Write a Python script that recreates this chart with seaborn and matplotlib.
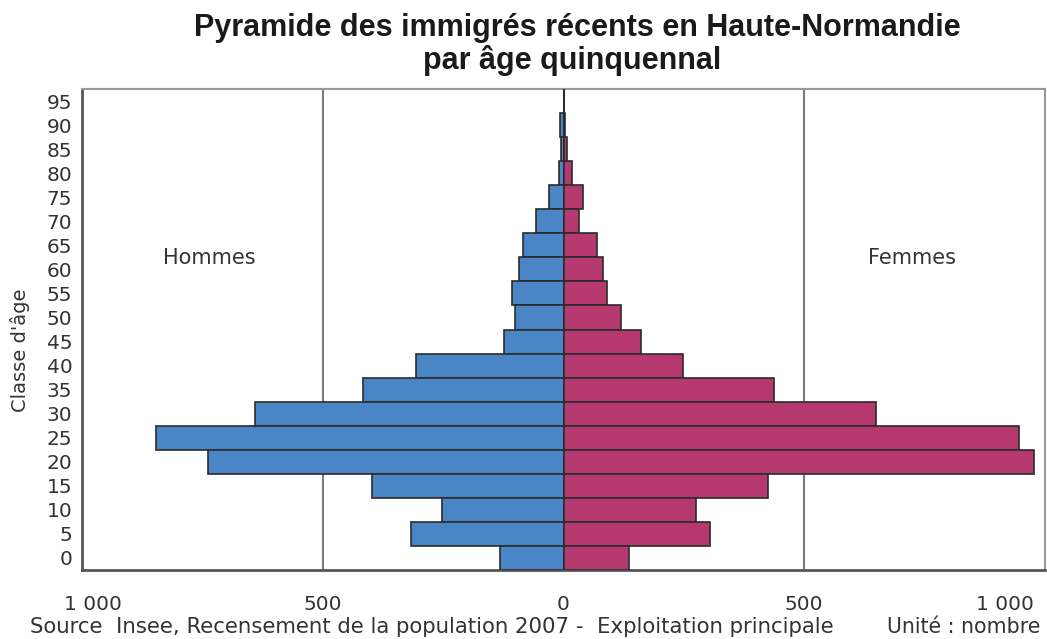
import matplotlib
matplotlib.use("Agg")
import matplotlib.pyplot as plt
import matplotlib.transforms as mtransforms
import seaborn as sns
import pandas as pd

ages = ["0", "5", "10", "15", "20", "25", "30", "35", "40", "45",
        "50", "55", "60", "65", "70", "75", "80", "85", "90", "95"]
hommes = [132, 316, 253, 397, 738, 847, 641, 416, 306, 124,
          100, 106, 93, 85, 57, 31, 9, 5, 7, 0]
femmes = [136, 305, 275, 425, 978, 946, 649, 438, 248, 160,
          120, 90, 83, 70, 33, 40, 18, 7, 4, 0]
xticks = [-1000, -500, 0, 500, 1000]
xtick_labels = ["1 000", "500", "0", "500", "1 000"]

sns.set_theme(style="white")
plt.rcParams["font.family"] = ["DejaVu Sans"]

df = pd.DataFrame({"age": ages, "hommes": [-v for v in hommes], "femmes": femmes})
order = ages[::-1]

fig = plt.figure(figsize=(10.47, 6.39), dpi=100)
ax = fig.add_axes([82 / 1047, (639 - 570) / 639, (1045 - 82) / 1047, (570 - 89) / 639])

for col, color in [("hommes", "#4a86c6"), ("femmes", "#b5396f")]:
    sns.barplot(data=df, x=col, y="age", order=order, orient="h", color=color,
                width=1.0, edgecolor="#2b2b2b", linewidth=1.2, saturation=1,
                ax=ax, zorder=3)

ax.set_xlim(-1000, 1000)
ax.set_ylim(19.5, -0.5)
for v in (-500, 500):
    ax.axvline(v, color="#7a7a7a", lw=1.5, zorder=1)
ax.axvline(0, color="#555555", lw=1.5, zorder=2)

ax.set_xticks(xticks)
ax.set_xticklabels(xtick_labels, fontsize=14.5, color="#333333")
ax.tick_params(axis="x", length=4, width=1.2, color="#555555", pad=14, direction="out")
ax.tick_params(axis="y", length=0, pad=7, labelsize=14.5, labelcolor="#333333")
labels = ax.get_xticklabels()
labels[0].set_transform(labels[0].get_transform() + mtransforms.ScaledTranslation(11 / 100, 0, fig.dpi_scale_trans))
labels[-1].set_transform(labels[-1].get_transform() + mtransforms.ScaledTranslation(-40 / 100, 0, fig.dpi_scale_trans))

ax.set_xlabel("")
ax.set_ylabel("")
fig.text(20 / 1047, 1 - 350 / 639, "Classe d'âge", rotation=90, fontsize=14,
         color="#333333", ha="center", va="center")

for side, c, lw in [("left", "#555555", 2.0), ("bottom", "#555555", 2.0),
                    ("top", "#999999", 1.5), ("right", "#999999", 1.5)]:
    ax.spines[side].set_visible(True)
    ax.spines[side].set_color(c)
    ax.spines[side].set_linewidth(lw)

ax.text(-735, 0.649, "Hommes", fontsize=15, color="#333333", ha="center", va="center",
        transform=ax.get_xaxis_transform())
ax.text(723, 0.649, "Femmes", fontsize=15, color="#333333", ha="center", va="center",
        transform=ax.get_xaxis_transform())

title_font = ["Liberation Sans", "DejaVu Sans"]
fig.text(0.551, 1 - 28 / 639, "Pyramide des immigrés récents en Haute-Normandie",
         fontsize=22, fontweight="bold", family=title_font, color="#1a1a1a", ha="center", va="center")
fig.text(0.546, 1 - 60 / 639, "par âge quinquennal",
         fontsize=22, fontweight="bold", family=title_font, color="#1a1a1a", ha="center", va="center")

fig.text(30 / 1047, 1 - 627 / 639,
         "Source  Insee, Recensement de la population 2007 -  Exploitation principale",
         fontsize=15.3, color="#333333", ha="left", va="center")
fig.text(1040 / 1047, 1 - 627 / 639, "Unité : nombre",
         fontsize=14.8, color="#333333", ha="right", va="center")

fig.savefig("out.png", dpi=100, facecolor="white")
